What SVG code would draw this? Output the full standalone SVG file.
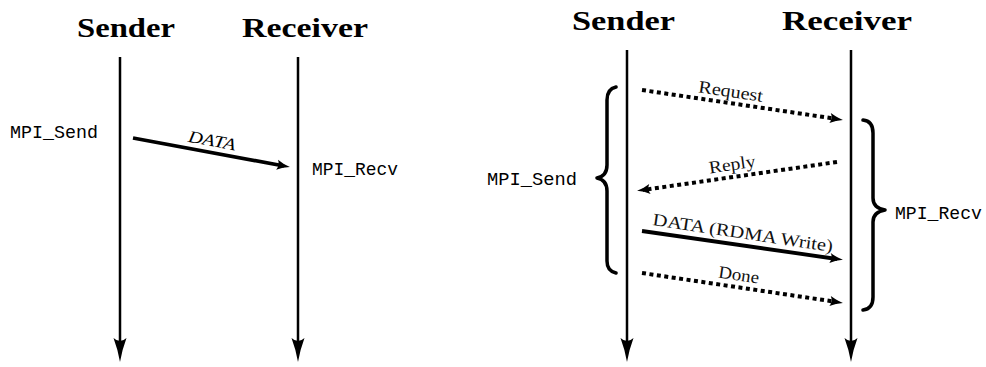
<svg xmlns="http://www.w3.org/2000/svg" width="986" height="367" viewBox="0 0 986 367">
  <style>
    .title { font-family: "Liberation Serif", "Times New Roman", serif; font-weight: bold; font-size: 27px; fill: #000; }
    .mono { font-family: "Liberation Mono", "Courier New", monospace; font-size: 18px; fill: #000; }
    .msg { font-family: "Liberation Serif", "Times New Roman", serif; font-size: 17.5px; fill: #111; }
    .msg-it { font-family: "Liberation Serif", "Times New Roman", serif; font-style: italic; font-size: 17px; fill: #000; }
    .life { fill: none; stroke: #000; stroke-width: 2.5; marker-end: url(#head-big); }
    .solid { fill: none; stroke: #000; stroke-width: 3.8; marker-end: url(#head-msg); }
    .dotted { fill: none; stroke: #000; stroke-width: 4; stroke-dasharray: 4 3.5; marker-end: url(#head-msg); }
    .brace { fill: none; stroke: #000; stroke-width: 3.5; stroke-linecap: round; stroke-linejoin: round; }
  </style>
  <defs>
    <!-- lifeline arrowhead: tip sits 10 units past the line end -->
    <marker id="head-big" markerUnits="userSpaceOnUse" viewBox="-16 -8 28 16" markerWidth="28" markerHeight="16" refX="0" refY="0" orient="auto" overflow="visible">
      <path d="M10,0 Q-2,-2 -14,-6.5 Q-8,0 -14,6.5 Q-2,2 10,0 Z" fill="#000"/>
    </marker>
    <!-- message arrowhead -->
    <marker id="head-msg" markerUnits="userSpaceOnUse" viewBox="-10 -6 20 12" markerWidth="20" markerHeight="12" refX="0" refY="0" orient="auto" overflow="visible">
      <path d="M6,0 Q-1,-1.5 -7,-5 Q-4,0 -7,5 Q-1,1.5 6,0 Z" fill="#000"/>
    </marker>
  </defs>
  <rect width="986" height="367" fill="#fff"/>

  <!-- Eager protocol: lifelines -->
  <g id="eager-sender">
    <text class="title" x="77" y="37" textLength="98" lengthAdjust="spacingAndGlyphs">Sender</text>
    <path class="life" d="M120,57 L120,352"/>
  </g>
  <g id="eager-receiver">
    <text class="title" x="242" y="37" textLength="126" lengthAdjust="spacingAndGlyphs">Receiver</text>
    <path class="life" d="M298,57 L298,352"/>
  </g>
  <g id="eager-send-call">
    <text class="mono" x="10" y="138" textLength="88" lengthAdjust="spacingAndGlyphs">MPI_Send</text>
  </g>
  <g id="eager-recv-call">
    <text class="mono" x="312" y="175" textLength="86" lengthAdjust="spacingAndGlyphs">MPI_Recv</text>
  </g>

  <!-- Rendezvous protocol: lifelines -->
  <g id="rndv-sender">
    <text class="title" x="572" y="30" textLength="103" lengthAdjust="spacingAndGlyphs">Sender</text>
    <path class="life" d="M627,50 L627,352"/>
  </g>
  <g id="rndv-receiver">
    <text class="title" x="782" y="30" textLength="130" lengthAdjust="spacingAndGlyphs">Receiver</text>
    <path class="life" d="M851,50 L851,352"/>
  </g>
  <g id="rndv-send-call">
    <path class="brace" d="M616,87 Q607,89 607,100 L607,165 Q607,176 597,178 Q607,180 607,191 L607,261 Q607,271 616,273"/>
    <text class="mono" x="487" y="185" textLength="90" lengthAdjust="spacingAndGlyphs">MPI_Send</text>
  </g>
  <g id="rndv-recv-call">
    <path class="brace" d="M863,120 Q873,121 873,133 L873,198 Q873,208 885,210 Q873,212 873,222 L873,297 Q873,309 863,310"/>
    <text class="mono" x="895" y="219" textLength="87" lengthAdjust="spacingAndGlyphs">MPI_Recv</text>
  </g>

  <!-- Messages -->
  <g id="connectors">
    <path class="solid" d="M133,138 L284,166"/>
    <text class="msg-it" x="211" y="146" text-anchor="middle" textLength="48" lengthAdjust="spacingAndGlyphs" transform="rotate(10.5 211 146)">DATA</text>

    <path class="dotted" d="M642,90 L837,119"/>
    <text class="msg" x="730" y="97" text-anchor="middle" textLength="65" lengthAdjust="spacingAndGlyphs" transform="rotate(8.5 730 97)">Request</text>

    <path class="dotted" d="M837,162 L643,190"/>
    <text class="msg" x="733" y="170" text-anchor="middle" textLength="47" lengthAdjust="spacingAndGlyphs" transform="rotate(-8.3 733 170)">Reply</text>

    <path class="solid" d="M642,231 L837,259"/>
    <text class="msg" x="742" y="238.5" text-anchor="middle" textLength="182" lengthAdjust="spacingAndGlyphs" transform="rotate(8.5 742 238.5)">DATA (RDMA Write)</text>

    <path class="dotted" d="M642,273 L837,302"/>
    <text class="msg" x="738" y="280.5" text-anchor="middle" textLength="41" lengthAdjust="spacingAndGlyphs" transform="rotate(8.5 738 280.5)">Done</text>
  </g>
</svg>
